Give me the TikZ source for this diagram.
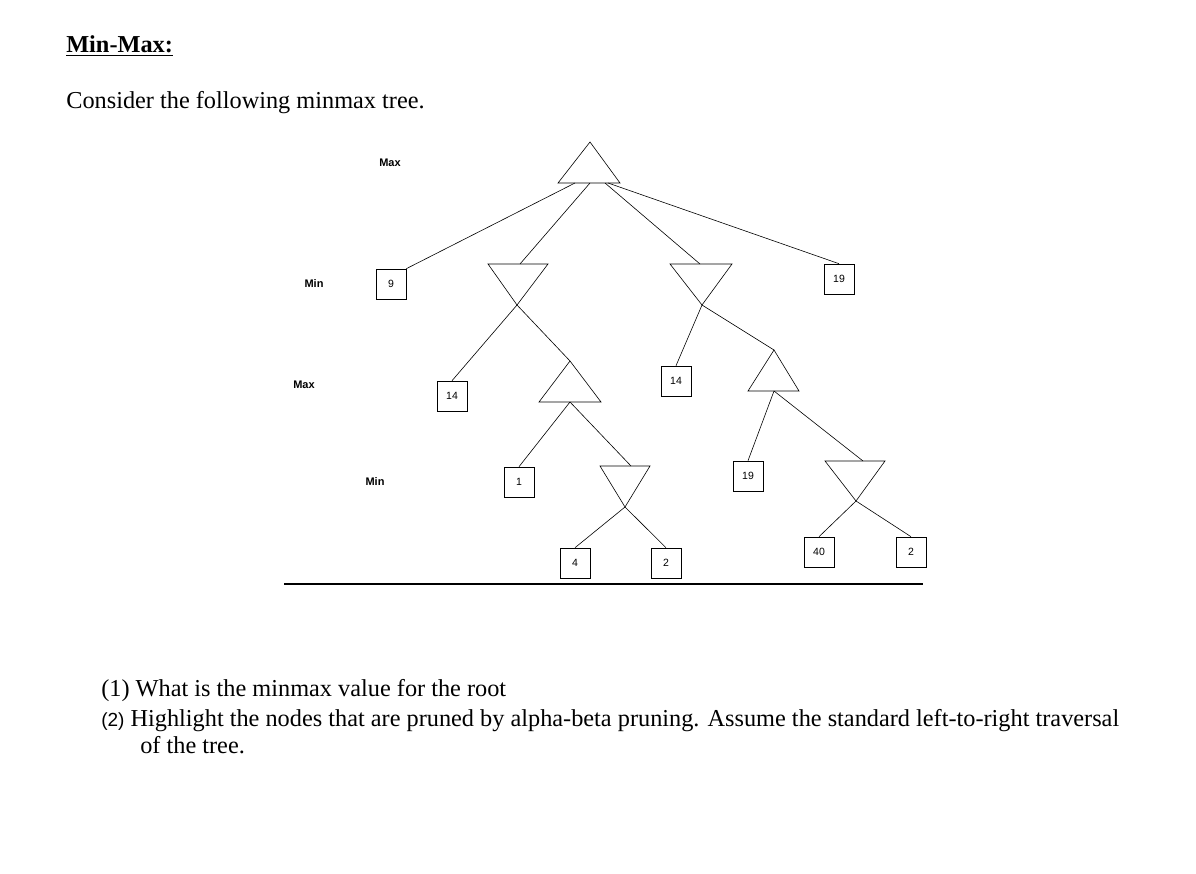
\documentclass[tikz,border=0pt]{standalone}
\usepackage{fontspec}
\setmainfont{Liberation Serif}
\newfontfamily\hsans{Liberation Sans}
\begin{document}
\begin{tikzpicture}[x=1pt,y=-1pt,line width=0.6pt,
  leaf/.style={draw,minimum width=30pt,minimum height=30pt,inner sep=0pt,font=\hsans\fontsize{10.5}{12}\selectfont},
  lvl/.style={font=\hsans\bfseries\fontsize{11}{13}\selectfont},
  txt/.style={anchor=base west,inner sep=0pt,font=\fontsize{24.3}{28}\selectfont}]
\useasboundingbox (0,0) rectangle (1196,874);
% titles
\node[txt] (title) at (66,53) {\bfseries\underline{Min-Max:}};
\node[txt] (cons) at (66,109) {Consider the following minmax tree.};
\node[txt] (q1) at (101,696) {(1)\ What is the minmax value for the root};
\node[txt] (q2) at (101,726) {{\hsans\fontsize{19}{22}\selectfont(2)}\ Highlight the nodes that are pruned by alpha-beta pruning. Assume the standard left-to-right traversal};
\node[txt] (q3) at (140,753) {of the tree.};
% level labels
\node[lvl] (l1) at (390,163) {Max};
\node[lvl] (l2) at (314,284) {Min};
\node[lvl] (l3) at (304,385) {Max};
\node[lvl] (l4) at (375,482) {Min};
% triangles
\draw (558,183) -- (590,142) -- (620,183) -- cycle;
\coordinate (r) at (590,183);
\draw (488,264) -- (548,264) -- (517,305) -- cycle;
\coordinate (a) at (517,305); \coordinate (at) at (520,264);
\draw (670,264) -- (732,264) -- (702,305) -- cycle;
\coordinate (b) at (702,305); \coordinate (bt) at (700,264);
\draw (539,402) -- (601,402) -- (570,361) -- cycle;
\coordinate (c) at (570,402); \coordinate (ct) at (570,361);
\draw (748,391) -- (799,391) -- (774,350) -- cycle;
\coordinate (d) at (774,391); \coordinate (dt) at (774,350);
\draw (600,466) -- (650,466) -- (625,507) -- cycle;
\coordinate (e) at (625,507); \coordinate (et) at (631,466);
\draw (825,461) -- (885,461) -- (856,501) -- cycle;
\coordinate (f) at (856,501); \coordinate (ft) at (863,461);
% leaves
\node[leaf] (n9) at (391,284) {9};
\node[leaf] (n19a) at (839,279) {19};
\node[leaf] (n14a) at (452,396) {14};
\node[leaf] (n14b) at (676,381) {14};
\node[leaf] (n1) at (519,482) {1};
\node[leaf] (n19b) at (748,476) {19};
\node[leaf] (n4) at (575,563) {4};
\node[leaf] (n2a) at (666,563) {2};
\node[leaf] (n40) at (819,552) {40};
\node[leaf] (n2b) at (911,552) {2};
% edges
\draw (575,183) -- (n9.north east);
\draw (r) -- (at);
\draw (605,183) -- (bt);
\draw (608,183) -- (n19a.north);
\draw (a) -- (n14a.north);
\draw (a) -- (ct);
\draw (b) -- (n14b.north);
\draw (b) -- (dt);
\draw (c) -- (n1.north);
\draw (c) -- (et);
\draw (e) -- (n4.north);
\draw (e) -- (n2a.north);
\draw (d) -- (n19b.north);
\draw (d) -- (ft);
\draw (f) -- (n40.north);
\draw (f) -- (n2b.north);
% baseline
\coordinate (bl) at (284,584); \coordinate (br) at (923,584);
\draw[line width=2pt] (bl) -- (br);
\end{tikzpicture}
\end{document}
